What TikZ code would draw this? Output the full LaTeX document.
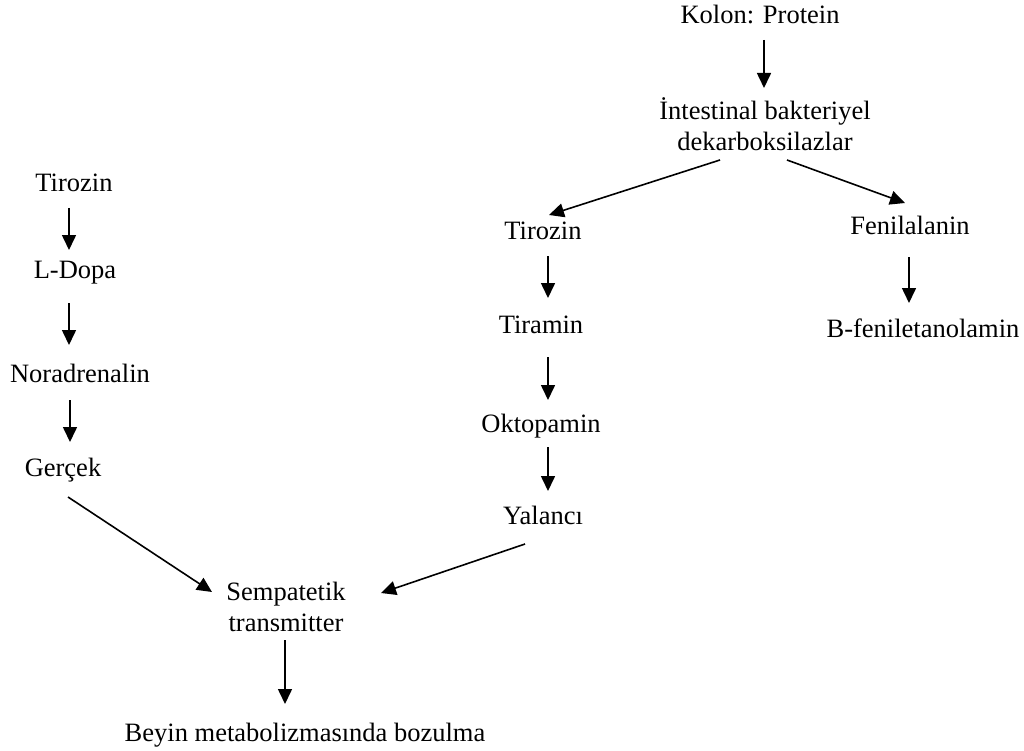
\documentclass[tikz,border=0pt]{standalone}
\usepackage{fontspec}
\setmainfont{Liberation Serif}
\usetikzlibrary{arrows.meta}
\newcommand\dgfont{\fontsize{26.5}{30.5}\selectfont}
\tikzset{
  lbl/.style={inner sep=0pt, font=\dgfont, anchor=base},
  mlbl/.style={inner sep=0pt, font=\dgfont, align=center, anchor=center},
  arr/.style={-{Triangle[length=15pt,width=14pt]}, line width=1.6pt},
}
\begin{document}
\begin{tikzpicture}[x=1pt,y=-1pt]
\useasboundingbox (0,0) rectangle (1024,751);
% left column
\node[lbl] (tz1) at (74,192) {Tirozin};
\node[lbl] (ld) at (75,278) {L-Dopa};
\node[lbl] (nor) at (80,382) {Noradrenalin};
\node[lbl] (ger) at (63,476) {Gerçek};
% top
\node[lbl] (kol) at (760,24) {Kolon: Protein};
\node[mlbl] (int) at (765,124) {İntestinal bakteriyel\\dekarboksilazlar};
% right columns
\node[lbl] (tz2) at (543,240) {Tirozin};
\node[lbl] (tir) at (541,333) {Tiramin};
\node[lbl] (okt) at (541,432) {Oktopamin};
\node[lbl] (yal) at (543,524) {Yalancı};
\node[lbl] (fen) at (910,235) {Fenilalanin};
\node[lbl] (bfe) at (923,337) {B-feniletanolamin};
% bottom
\node[mlbl] (sem) at (286,607) {Sempatetik\\transmitter};
\node[lbl] (bey) at (305,741) {Beyin metabolizmasında bozulma};
% arrows
\draw[arr] ([shift={(4,16)}]kol.base) -- ([shift={(-1,-36)}]int.center);
\draw[arr] ([shift={(-5,16)}]tz1.base) -- ([shift={(-6,-28)}]ld.base);
\draw[arr] ([shift={(-6,25)}]ld.base) -- ([shift={(-11,-37)}]nor.base);
\draw[arr] ([shift={(-10,18)}]nor.base) -- ([shift={(7,-34)}]ger.base);
\draw[arr] ([shift={(5,21)}]ger.base) -- ([shift={(-74,-15)}]sem.center);
\draw[arr] ([shift={(-45,36)}]int.center) -- ([shift={(6,-25)}]tz2.base);
\draw[arr] ([shift={(22,36)}]int.center) -- ([shift={(-5,-32)}]fen.base);
\draw[arr] ([shift={(5,16)}]tz2.base) -- ([shift={(7,-35)}]tir.base);
\draw[arr] ([shift={(7,24)}]tir.base) -- ([shift={(7,-32)}]okt.base);
\draw[arr] ([shift={(7,15)}]okt.base) -- ([shift={(5,-33)}]yal.base);
\draw[arr] ([shift={(-18,20)}]yal.base) -- ([shift={(95,-14)}]sem.center);
\draw[arr] ([shift={(-1,22)}]fen.base) -- ([shift={(-14,-34)}]bfe.base);
\draw[arr] ([shift={(-1,33)}]sem.center) -- ([shift={(-20,-37)}]bey.base);
\end{tikzpicture}
\end{document}
